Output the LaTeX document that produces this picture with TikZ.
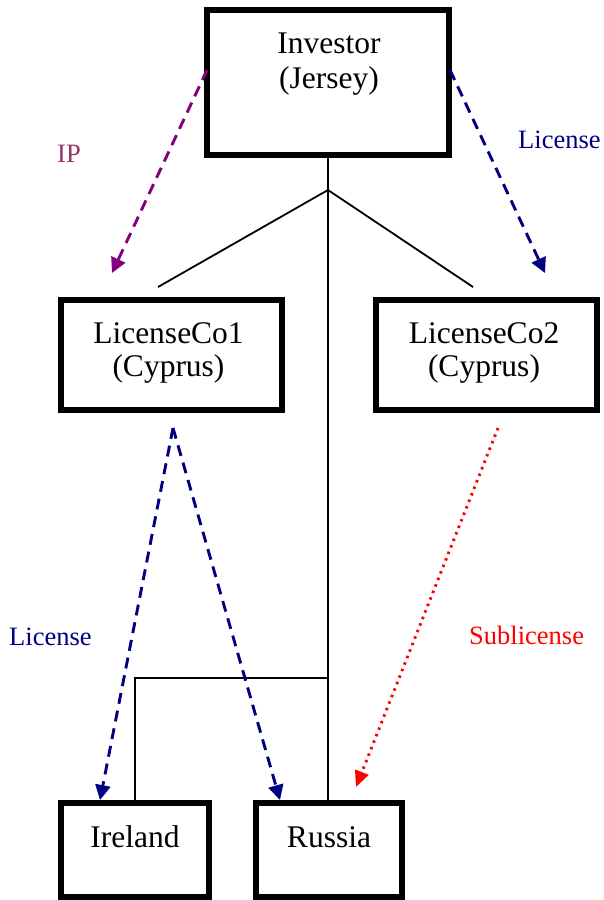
\documentclass[tikz,border=0pt]{standalone}
\usepackage{fontspec}
\setmainfont{Liberation Serif}
\usetikzlibrary{arrows.meta}
\definecolor{ipcol}{HTML}{993366}
\definecolor{navyc}{HTML}{000080}
\definecolor{purp}{HTML}{800080}
\definecolor{redc}{HTML}{FF0000}
\begin{document}
\begin{tikzpicture}[x=1pt,y=-1pt,
  box/.style={draw=black, line width=6pt, inner sep=0pt, outer sep=0pt, fill=white},
  btxt/.style={anchor=base, inner sep=0pt, font=\fontsize{31.5}{36}\selectfont},
  ltxt/.style={anchor=base west, inner sep=0pt, font=\fontsize{26.5}{30}\selectfont},
  conn/.style={draw=black, line width=1.8pt},
  flow/.style={line width=2.9pt, dash pattern=on 11pt off 7pt, -{Triangle[length=15pt,width=15pt]}},
  subflow/.style={line width=2.9pt, dash pattern=on 2.5pt off 4.5pt, -{Triangle[length=16pt,width=14pt]}}
]
\useasboundingbox (0,0) rectangle (603,900);
% boxes
\node[box, minimum width=242pt, minimum height=145pt] (inv) at (328,82.5) {};
\node[box, minimum width=221pt, minimum height=110pt] (lc1) at (171.5,355) {};
\node[box, minimum width=221pt, minimum height=110pt] (lc2) at (486.5,355) {};
\node[box, minimum width=148pt, minimum height=94pt] (ire) at (135,850) {};
\node[box, minimum width=146pt, minimum height=94pt] (rus) at (329,850) {};
% box texts
\node[btxt] (invt1) at (329,53) {Investor};
\node[btxt] (invt2) at (329,88) {(Jersey)};
\node[btxt] (lc1t1) at (168.5,343) {LicenseCo1};
\node[btxt] (lc1t2) at (168.5,376) {(Cyprus)};
\node[btxt] (lc2t1) at (484,343) {LicenseCo2};
\node[btxt] (lc2t2) at (484,376) {(Cyprus)};
\node[btxt] (iret) at (135,847) {Ireland};
\node[btxt] (rust) at (329,847) {Russia};
% ownership connectors
\coordinate (br) at (328,190);
\coordinate (l1end) at (158,287);
\coordinate (l2end) at (473,287);
\coordinate (hj) at (328,678);
\draw[conn] (inv.south -| br) -- (br |- rus.north);
\draw[conn] (br) -- (l1end);
\draw[conn] (br) -- (l2end);
\draw[conn] (hj) -- (ire.north |- hj) -- (ire.north);
% flow arrows
\coordinate (ipS) at (207,70);
\coordinate (ipE) at (112,273);
\coordinate (liS) at (450,70);
\coordinate (liE) at (545,273);
\coordinate (c1S) at (173,428);
\coordinate (c1E) at (100,800);
\coordinate (c2E) at (280,800);
\coordinate (sbS) at (498,428);
\coordinate (sbE) at (356,787);
\draw[flow, purp] (ipS) -- (ipE);
\draw[flow, navyc] (liS) -- (liE);
\draw[flow, navyc] (c1S) -- (c1E);
\draw[flow, navyc] (c1S) -- (c2E);
\draw[subflow, redc] (sbS) -- (sbE);
% labels
\node[ltxt, text=ipcol] (ipl) at (57,162) {IP};
\node[ltxt, text=navyc] (lil1) at (518,148) {License};
\node[ltxt, text=navyc] (lil2) at (9,645) {License};
\node[ltxt, text=redc] (sbl) at (469,644) {Sublicense};
\end{tikzpicture}
\end{document}
